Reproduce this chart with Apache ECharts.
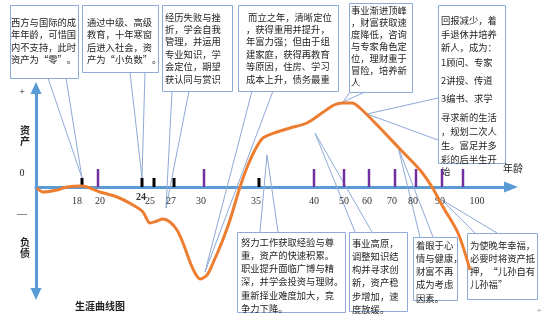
<!DOCTYPE html>
<html><head><meta charset="utf-8">
<script src="https://cdn.jsdelivr.net/npm/echarts@6/dist/echarts.min.js"></script>
<style>html,body{margin:0;padding:0;background:#fff}#c{width:543px;height:316px}</style>
</head><body><div id="c"></div>
<script>
// ---------- data ----------
const tickAges = ['18','20','24','25','27','30','35','40','50','60','70','80','90','100'];
const tickPos  = [46, 62, 106, 118, 138, 168, 223, 278, 308, 333, 359, 380, 406, 427];
const tickKind = ['m','d','m','m','m','d','m','d','d','d','d','d','d','d'];
const labelPos = [41, 64, 105, 114, 135, 165, 220, 278, 308, 331, 356, 377, 404, 441];

const curveX = [1,7,21,31,46,64,81,97,107,114,121,127,134,141,147,154,159,164,171,177,186,194,204,212,219,227,241,254,271,286,298,307,316,324,344,362,384,396,407,422,434];
const curveY = [-1,-5,-3,0,1,-5,-10,-18,-25,-36,-34,-32,-35,-43,-56,-75,-86,-92,-88,-76,-55,-33,0,22,37,49,55,59,64,74,82,84,84,79,59,40,17,0,-20,-46,-83];

const calloutTexts = [
  ['西方与国际的成','年年龄，可惜国','内不支持，此时','资产为“零”。'],
  ['通过中级、高级','教育，十年寒窗','后进入社会，资','产为“小负数”。'],
  ['经历失败与挫','折，学会自我','管理，并运用','专业知识，学','会定位，期望','获认同与赏识'],
  [' 而立之年，清晰定位','，获得重用并提升，','年富力强；但由于组','建家庭，获得再教育','等原因，住房、学习','成本上升，债务最重'],
  ['事业渐进顶峰','，财富获取速','度降低，咨询','与专家角色定','位，理财重于','冒险，培养新','人'],
  ['回报减少，着','手退休并培养','新人，成为：','1顾问、专家','2讲授、传道','3编书、求学','寻求新的生活','，规划二次人','生。富足并多','彩的后半生开','始'],
  ['努力工作获取经验与尊','重，资产的快速积累。','职业提升面临广博与精','深，并学会投资与理财。','重新择业难度加大，竞','争力下降。'],
  ['事业高原，','调整知识结','构并寻求创','新，资产稳','步增加，速','度放缓。'],
  ['着眼于心','情与健康，','财富不再','成为考虑','因素。'],
  ['为使晚年幸福，','必要时将资产抵','押，“儿孙自有','儿孙福”']
];
const calloutAnchorX = [46, 106, 130, 169, 307, 331, 231, 279, 362, 406];
const calloutAnchorY = [9, 9, -21, -85, 85, 73, 32, 54, 40, -13];

// ---------- layout (pixels) ----------
const boxes = [
  {x:10, y:5, w:68, h:73, tx:11, ty:22, lh:12.5, b:[[48,78],[66,78]]},
  {x:82, y:5, w:76, h:67, tx:87, ty:22, lh:12.5, b:[[130,72],[145,72]]},
  {x:162,y:5, w:70, h:86, tx:165,ty:17, lh:12.4, b:[[172,91],[189,91]]},
  {x:238,y:5, w:100,h:86, tx:246,ty:17, lh:12.4, b:[[252,91],[273,91]]},
  {x:349,y:3, w:63, h:89, tx:351,ty:10, lh:12, b:[[350,92],[365,92]]},
  {x:438,y:5, w:67, h:158,tx:441,ys:[20,34,47,62,80,98,117,131,145,159,171], b:[[438,98],[438,140]]},
  {x:237,y:232,w:108,h:80,tx:241,ty:242,lh:13.3, b:[[260,232],[278,232]]},
  {x:349,y:232,w:58, h:79,tx:352,ty:243,lh:13.3, b:[[355,232],[372,232]]},
  {x:413,y:237,w:44, h:63,tx:416,ty:245,lh:13.3, b:[[420,237],[433,237]]},
  {x:467,y:233,w:70, h:66,tx:470,ty:245,lh:13.3, b:[[475,233],[497,233]]}
];
const boxColor = '#8eaad6';
const cjk = '"Noto Sans CJK SC", sans-serif';

const graphics = [];
boxes.forEach((b, i) => {
  graphics.push({type:'rect', z:0, shape:{x:b.x+0.5, y:b.y+0.5, width:b.w, height:b.h},
    style:{fill:'#fff', stroke:boxColor, lineWidth:1}});
  calloutTexts[i].forEach((t, j) => {
    const y = b.ys ? b.ys[j] : b.ty + j * b.lh;
    graphics.push({type:'text', z:1, x:b.tx, y:y,
      style:{text:t, font:'9.3px ' + cjk, fill:'#1e1e1e', textVerticalAlign:'middle', textAlign:'left'}});
  });
});
const misc = [
  {t:'+', x:22, y:92, f:'10px "Liberation Serif"'},
  {t:'资\n产', x:25, y:136, f:'bold 10px ' + cjk, lh:11},
  {t:'0', x:22, y:173, f:'10px "Liberation Serif"'},
  {t:'—', x:22, y:214, f:'10px "Liberation Serif"'},
  {t:'负\n债', x:25, y:248, f:'bold 10px ' + cjk, lh:11},
  {t:'生涯曲线图', x:100, y:306, f:'bold 10px ' + cjk},
  {t:'年龄', x:513, y:168, f:'10px ' + cjk},
  {t:'+', x:539, y:311, f:'8px "Liberation Sans"', c:'#999'}
];
misc.forEach(m => graphics.push({type:'text', z:1, x:m.x, y:m.y,
  style:{text:m.t, font:m.f, fill:m.c || '#222', textAlign:'center', textVerticalAlign:'middle', lineHeight:m.lh || 12}}));

const chart = echarts.init(document.getElementById('c'), null, {renderer:'canvas'});
chart.setOption({
  animation:false,
  backgroundColor:'#fff',
  grid:{left:36, top:88, width:475, height:206},
  xAxis:{type:'value', min:0, max:475,
    axisLine:{show:true, onZero:true, lineStyle:{color:'#5b9bd5', width:3}, symbol:['none','triangle'], symbolSize:[11,14]},
    axisTick:{show:false}, axisLabel:{show:false}, splitLine:{show:false}},
  yAxis:{type:'value', min:-107, max:99,
    axisLine:{show:true, lineStyle:{color:'#5b9bd5', width:3}, symbol:['triangle','triangle'], symbolSize:[11,12]},
    axisTick:{show:false}, axisLabel:{show:false}, splitLine:{show:false}},
  graphic:{elements:graphics},
  series:[
    {type:'custom', z:1, silent:true,
      data: calloutAnchorX.map((x, i) => [x, calloutAnchorY[i], i]),
      renderItem:(params, api) => {
        const i = api.value(2);
        const tip = api.coord([api.value(0), api.value(1)]);
        const b = boxes[i].b;
        return {type:'polyline', shape:{points:[b[0], tip, b[1]]},
          style:{stroke:boxColor, lineWidth:1, fill:null}};
      }},
    {type:'custom', z:3, silent:true,
      data: tickPos.map((p, i) => [p, 0, i]),
      renderItem:(params, api) => {
        const i = api.value(2);
        const p = api.coord([api.value(0), 0]);
        const dec = tickKind[i] === 'd';
        const h = dec ? 18 : 9;
        return {type:'line', shape:{x1:p[0], y1:p[1], x2:p[0], y2:p[1]-h},
          style:{stroke: dec ? '#7030a0' : '#000', lineWidth: dec ? 2.5 : 3}};
      }},
    {type:'custom', z:3, silent:true,
      data: labelPos.map((p, i) => [p, 0, i]),
      renderItem:(params, api) => {
        const i = api.value(2);
        const p = api.coord([api.value(0), 0]);
        const special = tickAges[i] === '24';
        return {type:'text', x:p[0], y:p[1] + (special ? 10 : 14),
          style:{text:tickAges[i], font:(special ? 'bold ' : '') + '10px "Liberation Serif"', fill:'#333',
            textAlign:'center', textVerticalAlign:'middle'}};
      }},
    {type:'line', z:4, silent:true, smooth:0.3, showSymbol:false,
      data: curveX.map((x, i) => [x, curveY[i]]),
      lineStyle:{color:'#ed7d31', width:3}}
  ]
});
</script></body></html>
